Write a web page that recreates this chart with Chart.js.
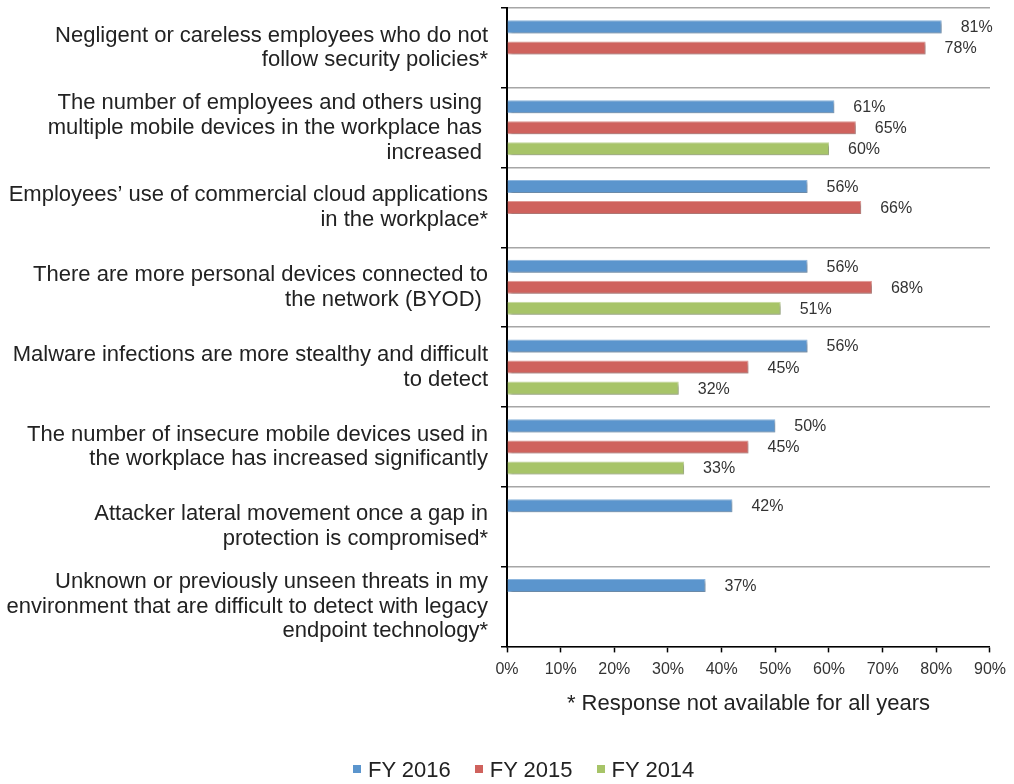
<!DOCTYPE html>
<html>
<head>
<meta charset="utf-8">
<script src="https://cdn.jsdelivr.net/npm/chart.js@4.4.1/dist/chart.umd.min.js"></script>
<style>
  body { margin: 0; background: #fff; }
  .wrap { position: relative; width: 1014px; height: 784px; }
  .legend { position: absolute; left: 353px; top: 757px; display: flex; align-items: center;
            font-family: "Liberation Sans", Arial, sans-serif; font-size: 22px; color: #222; white-space: nowrap; }
  .legend span.item { display: flex; align-items: center; margin-right: 24px; }
  .legend i { display: inline-block; width: 8px; height: 8px; margin-right: 7px; margin-top: -3px; }
</style>
</head>
<body>
<div class="wrap">
  <canvas id="chart" width="1014" height="784"></canvas>
  <div class="legend" id="legend"></div>
</div>
<script>
// categories (top to bottom)
const categories = [
    ['Negligent or careless employees who do not', 'follow security policies*'],
    ['The number of employees and others using ', 'multiple mobile devices in the workplace has ', 'increased '],
    ['Employees’ use of commercial cloud applications', 'in the workplace*'],
    ['There are more personal devices connected to', 'the network (BYOD) '],
    ['Malware infections are more stealthy and difficult', 'to detect'],
    ['The number of insecure mobile devices used in', 'the workplace has increased significantly'],
    ['Attacker lateral movement once a gap in', 'protection is compromised*'],
    ['Unknown or previously unseen threats in my', 'environment that are difficult to detect with legacy', 'endpoint technology*']
];

const seriesNames = ['FY 2016', 'FY 2015', 'FY 2014'];
const fy2016 = [81, 61, 56, 56, 56, 50, 42, 37];
const fy2015 = [78, 65, 66, 68, 45, 45, null, null];
const fy2014 = [null, 60, null, 51, 32, 33, null, null];
const xTicks = [0, 10, 20, 30, 40, 50, 60, 70, 80, 90];

const colors = ['#5B95CD', '#CF625D', '#A7C468'];
const borders = ['#8FB8E0', '#E29A96', '#C8DCA0'];
const font = '"Liberation Sans", Arial, sans-serif';

const shadowPlugin = {
    id: 'barShadow',
    beforeDatasetsDraw(chart) {
        const ctx = chart.ctx;
        ctx.save();
        ctx.shadowColor = 'rgba(0,0,0,0.35)';
        ctx.shadowOffsetX = 2;
        ctx.shadowOffsetY = 2;
        ctx.shadowBlur = 3;
    },
    afterDatasetsDraw(chart) {
        chart.ctx.restore();
    }
};

const valueLabels = {
    id: 'valueLabels',
    afterDatasetsDraw(chart) {
        const ctx = chart.ctx;
        ctx.save();
        ctx.font = '16px ' + font;
        ctx.fillStyle = '#333';
        ctx.textAlign = 'left';
        ctx.textBaseline = 'middle';
        chart.data.datasets.forEach((ds, i) => {
            chart.getDatasetMeta(i).data.forEach((el, j) => {
                const v = ds.data[j];
                if (v === null) return;
                ctx.fillText(v + '%', el.x + 19, el.y + 1);
            });
        });
        ctx.restore();
    }
};

const seriesData = [fy2016, fy2015, fy2014];

new Chart(document.getElementById('chart'), {
    type: 'bar',
    data: {
        labels: categories,
        datasets: seriesNames.map((name, i) => ({
            label: name,
            data: seriesData[i],
            backgroundColor: colors[i],
            borderColor: borders[i],
            borderWidth: 1,
            barPercentage: 0.62,
            categoryPercentage: 0.79
        }))
    },
    options: {
        indexAxis: 'y',
        responsive: false,
        animation: false,
        layout: { padding: { top: 8, right: 22, bottom: 67, left: 0 } },
        plugins: {
            legend: { display: false },
            tooltip: { enabled: false }
        },
        scales: {
            x: {
                min: 0,
                max: 90,
                afterBuildTicks(scale) {
                    scale.ticks = xTicks.map(v => ({ value: v }));
                },
                ticks: {
                    callback: v => v + '%',
                    color: '#333',
                    font: { family: font, size: 16 },
                    padding: 8,
                    maxRotation: 0,
                    autoSkip: false
                },
                grid: { drawOnChartArea: false, drawTicks: true, tickLength: 6, tickColor: '#000', tickWidth: 1.5 },
                border: { color: '#000', width: 1.5 },
                title: {
                    display: true,
                    text: '* Response not available for all years',
                    color: '#222',
                    font: { family: font, size: 22 },
                    padding: { top: 3, bottom: 0 }
                }
            },
            y: {
                afterFit(scale) {
                    scale.width = 507;
                    // labels fit inside their category bands, no extra room needed
                    scale.paddingTop = 0;
                    scale.paddingBottom = 0;
                },
                ticks: {
                    color: '#222',
                    font: { family: font, size: 22, lineHeight: 1.13 },
                    padding: 13,
                    autoSkip: false
                },
                grid: { offset: true, color: '#A6A6A6', lineWidth: 1.5, tickColor: '#000', tickLength: 6, tickWidth: 1.5 },
                border: { color: '#000', width: 2 }
            }
        }
    },
    plugins: [shadowPlugin, valueLabels]
});

// legend
const legend = document.getElementById('legend');
seriesNames.forEach((name, i) => {
    const item = document.createElement('span');
    item.className = 'item';
    item.innerHTML = '<i style="background:' + colors[i] + '"></i>' + name;
    legend.appendChild(item);
});
</script>
</body>
</html>
